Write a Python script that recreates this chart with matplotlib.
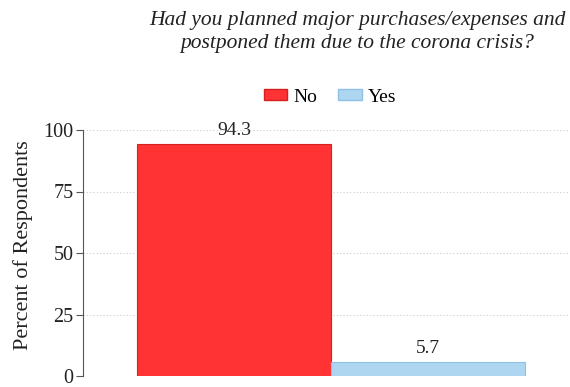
import matplotlib.pyplot as plt
from matplotlib.patches import Patch

answers = ['No', 'Yes']
percent = [94.3, 5.7]
colors = ['#ff3333', '#aed6f1']
edges = ['#d42020', '#8fc0e6']
yticks = [0, 25, 50, 75, 100]

plt.rcParams['font.family'] = ['Liberation Serif', 'DejaVu Serif']

fig = plt.figure(figsize=(5.7, 3.87), dpi=100)
ax = fig.add_axes([83 / 570, 11 / 387, 1 - 83 / 570, 246 / 387])

for i, (a, v) in enumerate(zip(answers, percent)):
    ax.bar(i, v, width=1.0, color=colors[i], edgecolor=edges[i], linewidth=0.8, zorder=3)
    ax.text(i, v + 2, f'{v:.1f}', ha='center', va='bottom', fontsize=14, color='#222222')

ax.set_xlim(-0.5 - 54 / 194, 1.5 + (570 - 525) / 194)
ax.set_ylim(0, 100)
ax.set_yticks(yticks)
ax.set_xticks([])
ax.tick_params(axis='y', labelsize=14.5, length=5, color='#555555', labelcolor='#222222', pad=2)
for y in yticks:
    ax.axhline(y, color='#cccccc', linestyle=(0, (1, 2)), linewidth=0.8, zorder=1)
for s in ['top', 'right', 'bottom']:
    ax.spines[s].set_visible(False)
ax.spines['left'].set_color('#555555')
ax.set_ylabel('Percent of Respondents', fontsize=16, color='#222222')
ax.yaxis.set_label_coords(-0.103, 0.53)

handles = [Patch(facecolor=colors[i], edgecolor=edges[i], label=answers[i]) for i in range(2)]
fig.legend(handles=handles, loc='center', bbox_to_anchor=(330 / 570, 1 - 97 / 387), ncol=2,
           frameon=False, fontsize=14, handlelength=1.2, handleheight=0.5, columnspacing=1.1,
           handletextpad=0.3)

fig.text(357 / 570, 1 - 32 / 387,
         'Had you planned major purchases/expenses and\npostponed them due to the corona crisis?',
         ha='center', va='center', fontsize=15.5, style='italic', color='#222222', linespacing=1.35)

fig.savefig('out.png', dpi=100)
